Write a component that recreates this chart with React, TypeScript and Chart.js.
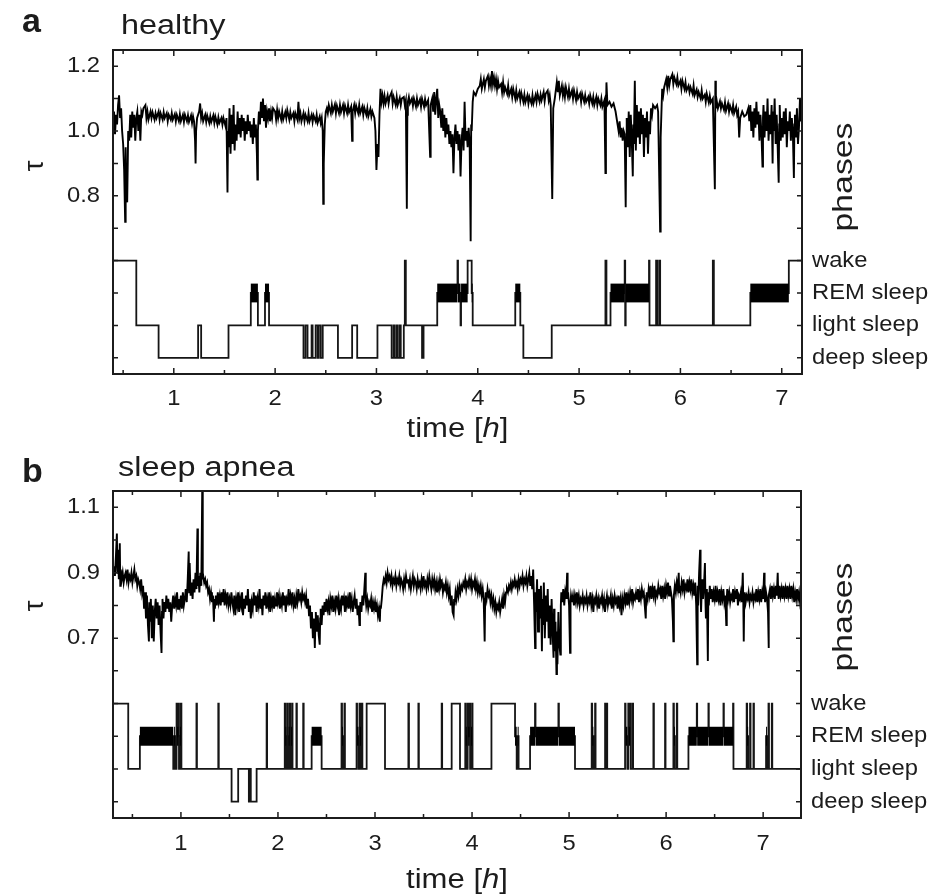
import React, { useEffect, useRef } from "react";
import { Chart, registerables } from "chart.js";
Chart.register(...registerables);

const FONT = "'Liberation Sans', Arial, Helvetica, sans-serif";

type Stage = "W" | "R" | "L" | "D";

// ---------- axis ticks ----------
const HOUR_TICKS = [1, 2, 3, 4, 5, 6, 7];
const HALF_HOUR_TICKS = [0.5, 1.5, 2.5, 3.5, 4.5, 5.5, 6.5];
const TAU_TICKS_A = [0.3, 0.4, 0.5, 0.6, 0.7, 0.8, 0.9, 1.0, 1.1, 1.2];
const TAU_LABELS_A = [0.8, 1.0, 1.2];
const TAU_TICKS_B = [0.2, 0.3, 0.4, 0.5, 0.6, 0.7, 0.8, 0.9, 1.0, 1.1];
const TAU_LABELS_B = [0.7, 0.9, 1.1];
const PHASE_NAMES: Record<Stage, string> = { W: "wake", R: "REM sleep", L: "light sleep", D: "deep sleep" };
const PHASE_ORDER: Stage[] = ["W", "R", "L", "D"];
const PHASE_LEVELS_A: Record<Stage, number> = { W: 0.6, R: 0.5, L: 0.4, D: 0.3 };
const PHASE_LEVELS_B: Record<Stage, number> = { W: 0.5, R: 0.4, L: 0.3, D: 0.2 };

// ---------- panel a: healthy ----------
const TAU_A: [number, number][] = [
  [0.40,1.03],[0.41,1.06],[0.42,0.99],[0.43,1.05],[0.44,1.02],[0.45,1.08],[0.46,1.11],[0.47,1.04],[0.48,1.07],[0.49,1.00],
  [0.50,0.96],[0.51,0.88],[0.52,0.72],[0.525,0.95],[0.53,0.80],[0.54,0.78],[0.55,1.00],[0.56,0.97],[0.57,1.05],[0.58,0.98],
  [0.59,1.06],[0.60,1.01],[0.61,1.05],[0.62,0.97],[0.63,1.04],[0.64,1.06],[0.65,1.00],[0.66,1.05],[0.67,0.97],[0.68,1.06],
  [0.69,1.05],[0.70,1.07],[0.72,1.08],[0.73,1.04],[0.74,1.06],[0.75,1.035],[0.77,1.06],[0.78,1.04],[0.79,1.058],[0.81,1.035],
  [0.82,1.055],[0.83,1.04],[0.85,1.06],[0.86,1.035],[0.87,1.055],[0.89,1.035],[0.90,1.058],[0.91,1.04],[0.93,1.055],[0.94,1.03],
  [0.95,1.05],[0.97,1.035],[0.98,1.055],[0.99,1.035],[1.01,1.052],[1.02,1.03],[1.03,1.05],[1.05,1.03],[1.06,1.052],[1.07,1.03],
  [1.09,1.05],[1.10,1.028],[1.11,1.05],[1.13,1.03],[1.14,1.048],[1.15,1.028],[1.17,1.048],[1.18,1.025],[1.19,1.045],[1.20,1.03],
  [1.21,0.97],[1.215,0.90],[1.22,1.00],[1.23,1.04],[1.25,1.06],[1.26,1.085],[1.27,1.04],[1.28,1.055],[1.29,1.03],[1.31,1.05],
  [1.32,1.028],[1.33,1.048],[1.35,1.025],[1.36,1.045],[1.37,1.028],[1.39,1.048],[1.40,1.025],[1.41,1.045],[1.43,1.02],[1.44,1.042],
  [1.45,1.025],[1.47,1.04],[1.48,1.02],[1.49,1.04],[1.51,1.015],[1.52,1.04],[1.53,0.81],[1.535,1.00],
  [1.54,0.95],[1.55,1.07],[1.56,0.93],[1.57,1.05],[1.58,0.96],[1.59,1.08],[1.60,0.94],[1.61,1.02],[1.62,0.97],[1.63,1.06],
  [1.64,0.99],[1.65,1.04],[1.66,0.98],[1.67,1.05],[1.68,1.00],[1.69,1.04],[1.70,0.97],[1.71,1.03],[1.72,0.99],[1.73,1.05],
  [1.74,1.00],[1.75,1.03],[1.76,0.98],[1.77,1.02],[1.78,0.96],[1.79,1.04],[1.80,0.98],[1.81,1.02],[1.82,0.93],[1.825,0.85],
  [1.83,1.00],[1.84,1.06],[1.85,1.02],[1.86,1.09],[1.87,1.04],[1.88,1.10],[1.89,1.03],[1.90,1.08],[1.91,1.01],[1.92,1.06],
  [1.93,1.04],[1.94,1.07],[1.95,1.03],[1.96,1.06],[1.97,1.04],[1.98,1.07],
  [2.00,1.06],[2.01,1.035],[2.02,1.065],[2.03,1.04],[2.04,1.06],[2.06,1.035],[2.07,1.06],[2.08,1.035],[2.10,1.058],[2.11,1.04],
  [2.12,1.065],[2.14,1.035],[2.15,1.058],[2.16,1.04],[2.18,1.055],[2.19,1.03],[2.20,1.055],[2.22,1.035],[2.23,1.09],[2.24,1.04],
  [2.25,1.055],[2.26,1.03],[2.28,1.055],[2.29,1.03],[2.30,1.05],[2.32,1.03],[2.33,1.055],[2.34,1.03],[2.36,1.05],[2.37,1.028],
  [2.38,1.048],[2.40,1.03],[2.41,1.05],[2.42,1.025],[2.44,1.045],[2.45,1.025],[2.46,1.04],
  [2.47,1.00],[2.475,0.775],[2.48,0.90],[2.49,1.02],[2.50,1.06],
  [2.51,1.07],[2.52,1.055],[2.53,1.08],[2.55,1.055],[2.56,1.08],[2.57,1.06],[2.59,1.082],[2.60,1.055],[2.61,1.078],[2.63,1.055],
  [2.64,1.08],[2.65,1.058],[2.67,1.08],[2.68,1.055],[2.69,1.078],[2.71,1.055],[2.72,1.08],[2.73,1.058],[2.75,1.075],[2.76,0.97],
  [2.765,1.06],[2.78,1.08],[2.79,1.055],[2.80,1.078],[2.82,1.055],[2.83,1.08],[2.84,1.055],[2.86,1.075],[2.87,1.05],[2.88,1.072],
  [2.90,1.05],[2.91,1.07],[2.92,1.045],[2.94,1.068],[2.95,1.045],[2.96,1.06],[2.98,1.04],
  [2.99,1.00],[3.00,0.88],[3.01,0.96],[3.02,0.92],[3.03,1.05],[3.04,1.13],
  [3.05,1.09],[3.06,1.11],[3.07,1.085],[3.08,1.108],[3.09,1.085],[3.11,1.11],[3.12,1.085],[3.13,1.105],[3.15,1.12],[3.16,1.085],
  [3.17,1.105],[3.19,1.08],[3.20,1.105],[3.21,1.08],[3.23,1.102],[3.24,1.08],[3.25,1.10],[3.27,1.105],[3.28,1.08],[3.29,1.095],
  [3.30,0.76],[3.305,1.05],[3.31,1.09],[3.32,1.105],[3.33,1.085],[3.35,1.10],[3.36,1.078],[3.37,1.10],[3.39,1.075],[3.40,1.10],
  [3.41,1.08],[3.43,1.098],[3.44,1.075],[3.45,1.10],[3.47,1.075],[3.48,1.098],[3.49,1.08],[3.51,1.095],
  [3.53,0.92],[3.535,1.08],[3.55,1.10],[3.56,1.06],[3.57,1.12],[3.58,1.05],
  [3.59,1.10],[3.60,1.13],[3.61,1.04],[3.62,1.08],[3.63,1.06],[3.64,1.01],[3.65,1.07],[3.66,1.00],[3.67,1.05],[3.68,0.98],
  [3.69,1.04],[3.70,0.99],[3.71,1.02],[3.72,0.96],[3.73,1.00],[3.74,0.95],[3.75,0.99],[3.76,0.87],[3.77,0.98],[3.78,1.02],
  [3.79,0.96],[3.80,1.00],[3.81,0.94],[3.82,0.99],[3.83,0.86],[3.84,0.97],[3.85,1.01],[3.86,0.94],[3.87,1.09],[3.88,0.97],
  [3.89,1.00],[3.90,0.95],[3.91,1.01],[3.92,0.96],[3.93,0.66],[3.935,1.02],[3.94,1.00],[3.95,1.09],[3.96,1.12],[3.98,1.11],
  [4.00,1.13],[4.02,1.14],[4.03,1.16],[4.04,1.13],
  [4.06,1.16],[4.07,1.135],[4.08,1.155],[4.10,1.17],[4.11,1.14],[4.12,1.16],[4.13,1.14],[4.14,1.185],[4.15,1.145],[4.16,1.165],
  [4.17,1.14],[4.18,1.16],[4.19,1.13],[4.20,1.155],[4.21,1.135],[4.23,1.145],[4.24,1.12],[4.25,1.15],[4.26,1.12],[4.27,1.135],
  [4.29,1.115],[4.30,1.14],[4.31,1.11],[4.33,1.13],[4.34,1.105],[4.35,1.13],[4.37,1.10],[4.38,1.125],[4.39,1.10],[4.41,1.12],
  [4.42,1.095],[4.43,1.118],[4.45,1.09],[4.46,1.112],[4.47,1.088],[4.49,1.11],[4.50,1.085],[4.51,1.105],[4.53,1.085],[4.54,1.11],
  [4.55,1.085],[4.57,1.11],[4.58,1.09],[4.59,1.115],[4.61,1.09],[4.62,1.112],[4.63,1.095],[4.65,1.12],[4.66,1.092],[4.67,1.115],
  [4.69,1.125],[4.70,1.095],[4.71,1.11],[4.72,1.08],[4.735,0.79],
  [4.745,1.07],[4.76,1.10],[4.78,1.15],[4.79,1.12],[4.80,1.155],[4.81,1.11],
  [4.83,1.14],[4.84,1.11],[4.85,1.13],[4.86,1.105],[4.87,1.135],[4.89,1.105],[4.90,1.13],[4.91,1.105],[4.93,1.125],[4.94,1.10],
  [4.95,1.125],[4.97,1.095],[4.98,1.12],[4.99,1.10],[5.01,1.115],[5.02,1.09],[5.03,1.115],[5.05,1.09],[5.06,1.11],[5.07,1.09],
  [5.09,1.105],[5.10,1.085],[5.11,1.11],[5.13,1.085],[5.14,1.105],[5.15,1.08],[5.17,1.105],[5.18,1.08],[5.19,1.10],[5.21,1.08],
  [5.22,1.10],[5.23,1.075],[5.25,1.095],[5.26,0.87],[5.265,1.05],
  [5.27,1.15],[5.28,1.08],[5.30,1.09],[5.32,1.075],[5.34,1.085],[5.36,1.06],[5.38,1.02],[5.39,1.00],[5.40,1.03],[5.41,0.98],
  [5.42,1.01],[5.43,0.97],[5.44,1.00],[5.45,0.99],[5.46,0.765],[5.465,0.98],[5.47,1.04],[5.48,0.95],[5.49,1.06],[5.50,0.92],
  [5.51,1.05],[5.52,0.97],[5.53,0.86],[5.535,1.02],[5.54,0.96],[5.55,1.155],[5.555,1.03],[5.56,0.94],[5.57,1.08],[5.58,0.98],
  [5.59,1.06],[5.60,0.96],[5.61,1.07],[5.62,0.99],[5.63,1.05],[5.64,0.92],[5.65,1.04],[5.66,0.98],[5.67,1.06],[5.68,0.93],
  [5.69,1.03],[5.70,0.99],[5.71,1.07],[5.72,1.05],[5.73,1.08],[5.75,1.07],[5.77,1.08],[5.78,1.06],[5.80,0.69],[5.805,0.98],
  [5.82,1.13],[5.83,1.11],[5.84,1.135],[5.86,1.16],[5.87,1.135],[5.88,1.17],[5.89,1.14],[5.90,1.16],[5.92,1.175],[5.93,1.145],
  [5.94,1.165],[5.96,1.145],[5.97,1.165],[5.98,1.14],[6.00,1.155],[6.01,1.13],[6.02,1.155],[6.04,1.13],[6.05,1.15],[6.06,1.125],
  [6.08,1.14],[6.09,1.12],[6.10,1.135],[6.12,1.115],[6.13,1.14],[6.14,1.11],[6.16,1.128],[6.17,1.105],[6.18,1.12],[6.20,1.10],
  [6.21,1.125],[6.22,1.10],[6.24,1.112],[6.25,1.09],[6.26,1.115],[6.28,1.088],[6.29,1.108],[6.30,1.088],[6.32,1.10],
  [6.34,0.82],[6.345,1.155],
  [6.35,1.07],[6.36,1.09],[6.37,1.07],[6.39,1.092],[6.40,1.07],[6.41,1.085],[6.43,1.065],[6.44,1.088],[6.45,1.062],[6.47,1.085],
  [6.48,1.06],[6.49,1.078],[6.51,1.058],[6.52,1.08],[6.53,1.055],[6.55,1.075],[6.56,1.05],[6.57,1.06],
  [6.58,0.98],[6.59,1.04],[6.61,1.06],[6.63,1.045],[6.65,1.05],[6.67,1.07],[6.68,1.03],[6.69,1.08],[6.70,1.00],[6.71,1.06],
  [6.72,0.98],[6.73,1.07],[6.74,1.01],[6.75,1.09],[6.76,1.02],[6.77,1.06],[6.78,0.97],[6.79,1.05],[6.80,0.99],[6.81,0.89],
  [6.815,1.04],[6.82,1.08],[6.83,0.98],[6.84,1.06],[6.85,1.00],[6.86,1.10],[6.87,0.97],[6.88,1.05],[6.89,0.99],[6.90,1.08],
  [6.91,0.90],[6.915,1.06],[6.92,1.00],[6.93,1.10],[6.94,0.96],[6.95,1.05],[6.96,0.95],[6.97,0.84],[6.975,1.02],[6.98,1.08],
  [6.99,0.97],[7.00,1.04],[7.01,0.98],[7.02,1.06],[7.03,0.99],[7.04,1.07],[7.05,0.95],[7.06,1.03],[7.07,1.00],[7.08,1.06],
  [7.09,0.97],[7.10,1.04],[7.11,0.99],[7.12,0.855],[7.125,1.02],[7.13,1.05],[7.14,0.98],[7.15,1.07],[7.16,0.96],[7.17,1.01],
  [7.18,1.10],[7.19,1.03],[7.20,1.06],[7.21,1.04],
];

const HYPNO_A: [number, Stage][] = [
  [0.40,"W"],[0.63,"L"],[0.85,"D"],[1.24,"L"],[1.27,"D"],[1.54,"L"],[1.76,"R"],[1.83,"L"],[1.90,"R"],[1.94,"L"],
  [2.28,"D"],[2.30,"L"],[2.32,"D"],[2.36,"L"],[2.37,"D"],[2.40,"L"],[2.42,"D"],[2.43,"L"],[2.45,"D"],[2.47,"L"],
  [2.62,"D"],[2.76,"L"],[2.81,"D"],[3.01,"L"],[3.15,"D"],[3.17,"L"],[3.18,"D"],[3.20,"L"],[3.21,"D"],[3.23,"L"],
  [3.24,"D"],[3.27,"L"],[3.28,"W"],[3.29,"L"],[3.45,"D"],[3.465,"L"],[3.60,"R"],[3.80,"W"],[3.805,"R"],[3.83,"L"],
  [3.835,"R"],[3.90,"W"],[3.94,"R"],[3.95,"L"],[4.37,"R"],[4.42,"L"],[4.45,"D"],[4.73,"L"],[5.26,"W"],[5.27,"L"],
  [5.31,"R"],[5.45,"W"],[5.455,"L"],[5.46,"R"],[5.69,"W"],[5.695,"L"],[5.76,"W"],[5.77,"L"],[5.79,"W"],[5.80,"L"],
  [6.32,"W"],[6.33,"L"],[6.69,"R"],[7.07,"W"],[7.21,"W"],
];

// ---------- panel b: sleep apnea ----------
const TAU_B: [number, number][] = [
  [0.30,0.90],[0.31,0.92],[0.32,0.89],[0.33,0.95],[0.34,1.02],[0.345,0.90],[0.35,0.97],[0.36,0.88],[0.37,0.99],[0.375,0.86],
  [0.38,0.91],[0.39,0.88],[0.40,0.90],[0.41,0.87],[0.42,0.89],[0.43,0.90],[0.44,0.88],[0.45,0.91],[0.46,0.87],[0.47,0.89],
  [0.48,0.88],[0.49,0.90],[0.50,0.87],[0.51,0.89],[0.52,0.91],[0.53,0.88],[0.54,0.89],[0.55,0.86],[0.56,0.88],[0.57,0.87],
  [0.58,0.85],[0.59,0.88],[0.60,0.84],[0.61,0.86],[0.62,0.79],[0.63,0.84],[0.64,0.76],[0.65,0.83],[0.66,0.74],[0.67,0.69],
  [0.675,0.81],[0.68,0.75],[0.69,0.82],[0.70,0.70],[0.71,0.80],[0.72,0.69],[0.73,0.78],[0.74,0.82],[0.75,0.76],[0.76,0.81],
  [0.77,0.74],[0.78,0.80],[0.79,0.72],[0.80,0.655],[0.805,0.78],[0.81,0.82],[0.82,0.76],[0.83,0.81],[0.84,0.78],[0.85,0.83],
  [0.86,0.79],[0.87,0.82],[0.88,0.78],[0.89,0.81],[0.90,0.75],[0.91,0.80],[0.92,0.83],[0.93,0.79],[0.94,0.82],[0.95,0.80],
  [0.96,0.84],[0.97,0.79],[0.98,0.82],[0.99,0.80],[1.00,0.83],[1.01,0.79],[1.02,0.84],[1.03,0.80],[1.04,0.82],[1.05,0.85],
  [1.06,0.81],[1.07,0.88],[1.08,0.965],[1.085,0.84],[1.09,0.93],[1.10,0.83],[1.11,0.87],[1.12,0.82],[1.13,0.88],[1.14,0.84],
  [1.15,0.90],[1.16,0.85],[1.17,1.035],[1.175,0.86],[1.18,0.89],[1.19,0.84],[1.20,0.90],[1.21,0.86],[1.22,1.17],[1.225,0.88],
  [1.23,0.89],[1.24,0.87],[1.25,0.88],[1.26,0.86],[1.27,0.87],[1.28,0.84],[1.29,0.85],[1.30,0.82],[1.31,0.84],[1.32,0.81],
  [1.33,0.83],[1.34,0.75],[1.345,0.82],[1.35,0.79],[1.36,0.83],[1.37,0.80],[1.38,0.84],[1.39,0.81],[1.40,0.83],[1.41,0.80],
  [1.42,0.84],[1.43,0.81],[1.44,0.85],[1.45,0.80],[1.46,0.83],[1.47,0.81],[1.48,0.84],[1.49,0.80],[1.50,0.82],[1.51,0.80],
  [1.52,0.84],[1.53,0.81],[1.54,0.79],[1.55,0.83],[1.56,0.77],[1.57,0.82],[1.58,0.80],
  [1.59,0.84],[1.60,0.78],[1.61,0.82],[1.62,0.80],[1.63,0.84],[1.64,0.77],[1.65,0.82],[1.66,0.79],[1.67,0.83],[1.68,0.80],
  [1.69,0.85],[1.70,0.78],[1.71,0.82],[1.72,0.76],[1.73,0.81],[1.74,0.79],[1.75,0.84],[1.76,0.80],[1.77,0.83],[1.78,0.78],
  [1.79,0.82],[1.80,0.80],[1.81,0.85],[1.82,0.79],[1.83,0.82],[1.84,0.77],[1.85,0.83],[1.86,0.80],[1.87,0.84],[1.88,0.79],
  [1.89,0.82],[1.90,0.80],[1.91,0.84],[1.92,0.78],[1.93,0.82],[1.94,0.80],[1.95,0.83],[1.96,0.79],[1.97,0.82],[1.98,0.80],
  [1.99,0.84],[2.00,0.81],[2.01,0.83],[2.02,0.79],[2.03,0.82],[2.04,0.80],[2.05,0.84],[2.06,0.80],[2.07,0.83],[2.08,0.78],
  [2.09,0.82],[2.10,0.81],[2.11,0.85],[2.12,0.80],[2.13,0.83],[2.14,0.81],[2.15,0.84],[2.16,0.80],[2.17,0.82],[2.18,0.79],
  [2.19,0.83],[2.20,0.81],[2.21,0.85],[2.22,0.82],[2.23,0.83],[2.24,0.81],[2.25,0.84],[2.26,0.82],[2.27,0.83],[2.28,0.81],
  [2.29,0.83],[2.30,0.79],[2.31,0.82],[2.32,0.77],[2.33,0.80],[2.34,0.73],[2.35,0.78],[2.36,0.70],[2.37,0.76],[2.38,0.67],
  [2.385,0.74],[2.39,0.78],[2.40,0.72],[2.41,0.77],[2.42,0.71],[2.43,0.68],[2.435,0.76],[2.44,0.79],[2.45,0.74],[2.46,0.80],
  [2.47,0.77],[2.48,0.81],[2.49,0.78],[2.50,0.82],[2.51,0.79],[2.52,0.81],[2.53,0.77],[2.54,0.82],[2.55,0.80],[2.56,0.83],
  [2.57,0.78],[2.58,0.81],[2.59,0.79],[2.60,0.83],[2.61,0.80],[2.62,0.82],[2.63,0.77],[2.64,0.81],[2.65,0.79],[2.66,0.83],
  [2.67,0.80],[2.68,0.82],[2.69,0.78],[2.70,0.83],[2.71,0.80],[2.72,0.82],[2.73,0.79],[2.74,0.84],[2.75,0.80],[2.76,0.82],
  [2.77,0.78],[2.78,0.81],[2.79,0.83],[2.80,0.79],[2.81,0.82],[2.82,0.77],[2.83,0.80],[2.84,0.74],[2.845,0.79],[2.85,0.81],
  [2.86,0.78],[2.87,0.83],[2.88,0.80],[2.89,0.85],[2.90,0.90],[2.905,0.82],[2.91,0.80],[2.92,0.82],[2.93,0.79],[2.94,0.81],
  [2.95,0.80],[2.96,0.82],[2.97,0.78],[2.98,0.81],[2.99,0.79],[3.00,0.81],[3.01,0.78],[3.02,0.80],[3.03,0.77],[3.04,0.79],
  [3.05,0.75],[3.055,0.80],[3.06,0.79],[3.07,0.82],[3.08,0.86],[3.09,0.88],[3.10,0.87],[3.11,0.89],[3.12,0.87],[3.13,0.90],
  [3.14,0.88],[3.15,0.89],[3.16,0.87],[3.17,0.89],[3.18,0.86],[3.19,0.88],[3.20,0.87],[3.21,0.89],[3.22,0.86],[3.23,0.88],
  [3.24,0.87],[3.25,0.89],[3.26,0.86],[3.27,0.88],[3.28,0.87],[3.29,0.85],[3.30,0.88],[3.31,0.86],[3.32,0.89],[3.33,0.87],
  [3.34,0.88],[3.35,0.86],[3.36,0.88],[3.37,0.85],[3.38,0.87],[3.39,0.89],[3.40,0.86],[3.41,0.88],[3.42,0.87],[3.43,0.85],
  [3.44,0.88],[3.45,0.86],[3.46,0.87],[3.47,0.85],[3.48,0.88],[3.49,0.86],[3.50,0.89],[3.51,0.86],[3.52,0.87],[3.53,0.85],
  [3.54,0.88],[3.55,0.86],[3.56,0.89],[3.57,0.87],[3.58,0.85],[3.59,0.88],[3.60,0.86],[3.61,0.88],[3.62,0.85],[3.63,0.87],
  [3.64,0.84],[3.65,0.87],[3.66,0.85],[3.67,0.88],[3.68,0.86],[3.69,0.87],[3.70,0.84],[3.71,0.86],[3.72,0.85],[3.73,0.87],
  [3.74,0.84],[3.75,0.86],[3.76,0.83],[3.77,0.85],[3.78,0.80],[3.79,0.83],[3.80,0.78],[3.81,0.77],[3.815,0.82],[3.82,0.80],
  [3.83,0.84],[3.84,0.82],[3.85,0.85],[3.86,0.83],[3.87,0.86],[3.88,0.84],[3.89,0.86],[3.90,0.85],[3.91,0.87],[3.92,0.86],
  [3.93,0.88],[3.94,0.85],[3.95,0.87],[3.96,0.86],[3.97,0.88],[3.98,0.86],[3.99,0.88],[4.00,0.85],[4.01,0.87],[4.02,0.86],
  [4.03,0.88],[4.04,0.85],[4.05,0.87],[4.06,0.84],[4.07,0.86],[4.08,0.84],[4.09,0.86],[4.10,0.83],[4.11,0.85],[4.12,0.82],
  [4.13,0.69],[4.135,0.82],[4.14,0.84],[4.15,0.82],[4.16,0.85],[4.17,0.83],[4.18,0.84],[4.19,0.81],[4.20,0.83],[4.21,0.80],
  [4.22,0.82],[4.23,0.79],[4.24,0.81],[4.25,0.78],[4.26,0.80],[4.27,0.79],[4.28,0.81],[4.29,0.78],[4.30,0.80],[4.31,0.82],
  [4.32,0.79],[4.33,0.83],[4.34,0.81],[4.35,0.84],[4.36,0.85],[4.37,0.84],[4.38,0.86],[4.39,0.85],[4.40,0.87],[4.41,0.85],
  [4.42,0.87],[4.43,0.86],[4.44,0.88],[4.45,0.86],[4.46,0.87],[4.47,0.85],[4.48,0.88],[4.49,0.86],[4.50,0.88],[4.51,0.87],
  [4.52,0.89],[4.53,0.86],[4.54,0.88],[4.55,0.87],[4.56,0.89],[4.57,0.86],[4.58,0.88],[4.59,0.90],[4.60,0.86],[4.61,0.89],
  [4.62,0.85],[4.63,0.91],[4.64,0.80],[4.65,0.67],[4.655,0.84],[4.66,0.78],[4.67,0.88],[4.68,0.72],[4.69,0.85],[4.70,0.76],
  [4.71,0.86],[4.72,0.66],[4.725,0.82],[4.73,0.74],[4.74,0.87],[4.75,0.70],[4.76,0.83],[4.77,0.75],[4.78,0.85],[4.79,0.70],
  [4.80,0.80],[4.81,0.68],[4.82,0.82],[4.83,0.72],[4.84,0.64],[4.845,0.79],[4.85,0.66],[4.86,0.75],[4.87,0.59],[4.875,0.72],
  [4.88,0.62],[4.89,0.78],[4.90,0.68],[4.91,0.65],[4.915,0.80],[4.92,0.84],[4.93,0.81],[4.94,0.85],[4.95,0.80],[4.96,0.84],
  [4.97,0.82],[4.98,0.90],[4.985,0.82],[4.99,0.84],[5.00,0.80],[5.01,0.655],[5.015,0.81],[5.02,0.83],[5.03,0.81],[5.04,0.83],
  [5.05,0.80],[5.06,0.83],[5.07,0.81],[5.08,0.84],[5.09,0.81],[5.10,0.83],[5.11,0.80],[5.12,0.82],[5.13,0.81],[5.14,0.83],
  [5.15,0.80],[5.16,0.82],[5.17,0.81],[5.18,0.83],[5.19,0.80],[5.20,0.82],[5.21,0.81],[5.22,0.84],[5.23,0.80],[5.24,0.82],
  [5.25,0.78],[5.26,0.82],[5.27,0.81],[5.28,0.83],[5.29,0.80],[5.30,0.82],[5.31,0.79],[5.32,0.82],[5.33,0.81],[5.34,0.83],
  [5.35,0.80],[5.36,0.82],[5.37,0.78],[5.38,0.81],[5.39,0.83],[5.40,0.80],[5.41,0.82],[5.42,0.81],[5.43,0.83],[5.44,0.79],
  [5.45,0.82],[5.46,0.80],[5.47,0.83],[5.48,0.81],[5.49,0.82],[5.50,0.79],[5.51,0.83],[5.52,0.80],[5.53,0.82],[5.54,0.77],
  [5.55,0.82],[5.56,0.80],[5.57,0.83],[5.58,0.81],[5.59,0.84],[5.60,0.80],[5.61,0.83],[5.62,0.81],[5.63,0.84],[5.64,0.82],
  [5.65,0.85],[5.66,0.81],[5.67,0.83],[5.68,0.82],[5.69,0.84],[5.70,0.82],[5.71,0.85],[5.72,0.81],[5.73,0.84],[5.74,0.82],
  [5.75,0.85],[5.76,0.83],[5.77,0.84],[5.78,0.80],[5.79,0.76],[5.795,0.83],[5.80,0.84],[5.81,0.82],[5.82,0.85],[5.83,0.83],
  [5.84,0.86],[5.85,0.82],[5.86,0.85],[5.87,0.83],[5.88,0.86],[5.89,0.82],[5.90,0.84],[5.91,0.83],[5.92,0.86],[5.93,0.84],
  [5.94,0.85],[5.95,0.82],[5.96,0.86],[5.97,0.83],[5.98,0.85],[5.99,0.82],[6.00,0.86],[6.01,0.84],[6.02,0.87],[6.03,0.83],
  [6.04,0.86],[6.05,0.84],[6.06,0.82],[6.07,0.75],[6.075,0.69],[6.08,0.83],[6.09,0.86],[6.10,0.84],[6.11,0.87],[6.12,0.85],
  [6.13,0.90],[6.135,0.84],[6.14,0.86],[6.15,0.84],[6.16,0.87],[6.17,0.85],[6.18,0.88],[6.19,0.84],[6.20,0.86],[6.21,0.85],
  [6.22,0.88],[6.23,0.84],[6.24,0.87],[6.25,0.85],[6.26,0.88],[6.27,0.84],[6.28,0.86],[6.29,0.83],[6.30,0.87],[6.31,0.80],
  [6.32,0.62],[6.325,0.86],[6.33,0.80],[6.34,0.90],[6.35,0.97],[6.355,0.84],[6.36,0.78],[6.37,0.88],[6.38,0.82],[6.39,0.86],
  [6.40,0.93],[6.405,0.82],[6.41,0.76],[6.42,0.85],[6.43,0.63],[6.435,0.84],[6.44,0.80],[6.45,0.86],[6.46,0.82],[6.47,0.85],
  [6.48,0.81],[6.49,0.84],[6.50,0.82],[6.51,0.86],[6.52,0.81],[6.53,0.84],[6.54,0.82],[6.55,0.85],[6.56,0.80],[6.57,0.84],
  [6.58,0.82],[6.59,0.85],[6.60,0.81],[6.61,0.83],[6.62,0.74],[6.625,0.82],[6.63,0.85],[6.64,0.82],[6.65,0.84],[6.66,0.81],
  [6.67,0.83],[6.68,0.82],[6.69,0.85],[6.70,0.81],[6.71,0.84],[6.72,0.82],[6.73,0.85],[6.74,0.80],[6.75,0.83],[6.76,0.82],
  [6.77,0.84],[6.78,0.81],[6.79,0.90],[6.795,0.82],[6.80,0.69],[6.805,0.82],[6.81,0.84],[6.82,0.81],[6.83,0.83],[6.84,0.82],
  [6.85,0.84],[6.86,0.81],[6.87,0.83],[6.88,0.82],[6.89,0.84],[6.90,0.81],[6.91,0.83],[6.92,0.82],[6.93,0.85],[6.94,0.81],
  [6.95,0.84],[6.96,0.82],[6.97,0.85],[6.98,0.81],[6.99,0.84],[7.00,0.82],[7.01,0.90],[7.015,0.83],[7.02,0.81],[7.03,0.84],
  [7.04,0.82],[7.05,0.78],[7.055,0.67],[7.06,0.83],[7.07,0.85],[7.08,0.82],[7.09,0.86],[7.10,0.83],[7.11,0.85],[7.12,0.82],
  [7.13,0.86],[7.14,0.83],[7.15,0.90],[7.155,0.84],[7.16,0.82],[7.17,0.86],[7.18,0.83],[7.19,0.85],[7.20,0.82],[7.21,0.86],
  [7.22,0.83],[7.23,0.85],[7.24,0.82],[7.25,0.86],[7.26,0.83],[7.27,0.85],[7.28,0.82],[7.29,0.86],[7.30,0.83],[7.31,0.85],
  [7.32,0.81],[7.33,0.84],[7.34,0.82],[7.35,0.85],[7.36,0.82],[7.37,0.84],[7.38,0.81],[7.39,0.83],
];

const HYPNO_B: [number, Stage][] = [
  [0.30,"W"],[0.457,"L"],[0.577,"R"],[0.921,"L"],[0.93,"R"],[0.94,"L"],[0.955,"W"],[0.96,"R"],[0.975,"W"],[0.98,"L"],
  [0.99,"R"],[1.0,"W"],[1.005,"L"],[1.16,"W"],[1.165,"L"],[1.385,"W"],[1.39,"L"],[1.522,"D"],[1.59,"L"],[1.70,"D"],
  [1.71,"L"],[1.72,"D"],[1.78,"L"],[1.883,"W"],[1.888,"L"],[2.07,"W"],[2.075,"R"],[2.085,"L"],[2.095,"W"],[2.10,"L"],
  [2.11,"R"],[2.12,"W"],[2.125,"L"],[2.135,"R"],[2.145,"W"],[2.15,"L"],[2.19,"W"],[2.195,"L"],[2.26,"W"],[2.265,"L"],
  [2.347,"R"],[2.45,"L"],[2.655,"W"],[2.66,"R"],[2.67,"L"],[2.685,"W"],[2.69,"L"],[2.81,"W"],[2.815,"R"],[2.83,"L"],
  [2.84,"W"],[2.845,"R"],[2.855,"L"],[2.863,"W"],[2.87,"L"],[2.914,"W"],[3.103,"L"],[3.344,"W"],[3.35,"L"],[3.447,"W"],
  [3.452,"L"],[3.687,"W"],[3.692,"L"],[3.79,"W"],[3.876,"L"],[3.93,"W"],[3.935,"R"],[3.945,"L"],[3.955,"W"],[3.96,"R"],
  [3.975,"W"],[3.98,"L"],[3.99,"R"],[4.0,"W"],[4.005,"L"],[4.20,"W"],[4.443,"R"],[4.46,"L"],[4.47,"R"],[4.48,"L"],
  [4.598,"R"],[4.649,"W"],[4.654,"R"],[4.89,"W"],[4.895,"R"],[5.061,"L"],[5.233,"W"],[5.238,"R"],[5.25,"L"],[5.268,"W"],
  [5.273,"L"],[5.371,"W"],[5.376,"L"],[5.388,"W"],[5.393,"L"],[5.577,"W"],[5.582,"R"],[5.60,"L"],[5.61,"W"],[5.615,"R"],
  [5.63,"W"],[5.635,"L"],[5.655,"W"],[5.66,"L"],[5.869,"W"],[5.874,"L"],[5.989,"W"],[5.994,"L"],[6.075,"W"],[6.08,"R"],
  [6.09,"L"],[6.11,"W"],[6.115,"L"],[6.23,"R"],[6.316,"W"],[6.32,"R"],[6.436,"W"],[6.44,"R"],[6.591,"W"],[6.595,"R"],
  [6.69,"W"],[6.694,"L"],[6.83,"W"],[6.835,"R"],[6.845,"L"],[6.865,"W"],[6.87,"L"],[6.90,"W"],[6.905,"L"],[7.03,"R"],
  [7.04,"L"],[7.055,"W"],[7.06,"L"],[7.089,"W"],[7.094,"L"],[7.39,"L"],
];

// ---------- panel configs (layout only) ----------
interface PanelCfg {
  letter: string; title: string; tau: [number, number][]; hypno: [number, Stage][];
  levels: Record<Stage, number>; tauTicks: number[]; tauLabels: number[];
  xMin: number; xMax: number; yMin: number; yMax: number; remHalf: number;
  top: number; height: number;
  pad: { top: number; left: number; right: number; bottom: number };
  letterBase: number; titleX: number; titleBase: number; xLabelOffset: number; xTitleBase: number;
}

const PANEL_A: PanelCfg = {
  letter: "a", title: "healthy", tau: TAU_A, hypno: HYPNO_A, levels: PHASE_LEVELS_A,
  tauTicks: TAU_TICKS_A, tauLabels: TAU_LABELS_A,
  xMin: 0.4, xMax: 7.2, yMin: 0.25, yMax: 1.25, remHalf: 0.029,
  top: 0, height: 450, pad: { top: 50, left: 113, right: 149, bottom: 76 },
  letterBase: 32, titleX: 121, titleBase: 34, xLabelOffset: 25, xTitleBase: 437,
};
const PANEL_B: PanelCfg = {
  letter: "b", title: "sleep apnea", tau: TAU_B, hypno: HYPNO_B, levels: PHASE_LEVELS_B,
  tauTicks: TAU_TICKS_B, tauLabels: TAU_LABELS_B,
  xMin: 0.3, xMax: 7.39, yMin: 0.15, yMax: 1.15, remHalf: 0.029,
  top: 440, height: 455, pad: { top: 51, left: 113, right: 150, bottom: 77 },
  letterBase: 42, titleX: 118, titleBase: 36, xLabelOffset: 25.5, xTitleBase: 448,
};

const INK = "#1c1c1c";

function drawText(ctx: CanvasRenderingContext2D, text: string, x: number, y: number, font: string,
  o: { sx?: number; rot?: number; align?: CanvasTextAlign; base?: CanvasTextBaseline } = {}) {
  ctx.save();
  ctx.translate(x, y);
  if (o.rot) ctx.rotate(o.rot);
  ctx.scale(o.sx ?? 1, 1);
  ctx.font = font;
  ctx.fillStyle = INK;
  ctx.textAlign = o.align ?? "left";
  ctx.textBaseline = o.base ?? "alphabetic";
  ctx.fillText(text, 0, 0);
  ctx.restore();
}

function drawRich(ctx: CanvasRenderingContext2D, parts: { t: string; f: string }[], cx: number, base: number, sx: number) {
  let total = 0;
  const widths = parts.map((p) => { ctx.font = p.f; const w = ctx.measureText(p.t).width; total += w; return w; });
  let x = cx - (total * sx) / 2;
  parts.forEach((p, i) => { drawText(ctx, p.t, x, base, p.f, { sx }); x += widths[i] * sx; });
}

// REM periods of a hypnogram: [start, end] intervals
function remIntervals(h: [number, Stage][]) {
  const out: [number, number][] = [];
  for (let i = 0; i < h.length - 1; i++) if (h[i][1] === "R") out.push([h[i][0], h[i + 1][0]]);
  return out;
}

function makeDecor(cfg: PanelCfg) {
  return {
    id: "decor" + cfg.letter,
    afterDatasetsDraw(chart: any) {
      // REM blocks, positioned through the chart's scales
      const ctx: CanvasRenderingContext2D = chart.ctx;
      const xs = chart.scales.x, ys = chart.scales.y;
      const y0 = ys.getPixelForValue(cfg.levels.R + cfg.remHalf);
      const y1 = ys.getPixelForValue(cfg.levels.R - cfg.remHalf);
      ctx.save();
      ctx.fillStyle = "#000";
      remIntervals(cfg.hypno).forEach(([a, b]) => {
        const x0 = xs.getPixelForValue(a), x1 = xs.getPixelForValue(b);
        ctx.fillRect(x0, y0, Math.max(1, x1 - x0), y1 - y0);
      });
      ctx.restore();
    },
    afterDraw(chart: any) {
      const ctx: CanvasRenderingContext2D = chart.ctx;
      const { left, right, top, bottom } = chart.chartArea;
      const xs = chart.scales.x, ys = chart.scales.y;
      ctx.save();
      ctx.strokeStyle = INK;
      ctx.lineWidth = 1.5;
      ctx.beginPath();
      HOUR_TICKS.forEach((v) => { const p = xs.getPixelForValue(v); ctx.moveTo(p, bottom); ctx.lineTo(p, bottom - 6); ctx.moveTo(p, top); ctx.lineTo(p, top + 6); });
      HALF_HOUR_TICKS.forEach((v) => { const p = xs.getPixelForValue(v); ctx.moveTo(p, bottom); ctx.lineTo(p, bottom - 4); ctx.moveTo(p, top); ctx.lineTo(p, top + 4); });
      cfg.tauTicks.forEach((v) => { const p = ys.getPixelForValue(v); ctx.moveTo(left, p); ctx.lineTo(left + 5, p); ctx.moveTo(right, p); ctx.lineTo(right - 5, p); });
      ctx.stroke();
      ctx.lineWidth = 2;
      ctx.strokeRect(left, top, right - left, bottom - top);
      ctx.restore();

      const tickFont = `22px ${FONT}`;
      const titleFont = `27px ${FONT}`;
      HOUR_TICKS.forEach((v) => drawText(ctx, String(v), xs.getPixelForValue(v), bottom + cfg.xLabelOffset, tickFont, { sx: 1.08, align: "center", base: "middle" }));
      cfg.tauLabels.forEach((v) => drawText(ctx, v.toFixed(1), left - 13, ys.getPixelForValue(v), tickFont, { sx: 1.08, align: "right", base: "middle" }));
      PHASE_ORDER.forEach((s) => drawText(ctx, PHASE_NAMES[s], right + 10, ys.getPixelForValue(cfg.levels[s]), tickFont, { sx: 1.08, align: "left", base: "middle" }));
      drawText(ctx, cfg.letter, 22, cfg.letterBase, `bold 34px ${FONT}`);
      drawText(ctx, cfg.title, cfg.titleX, cfg.titleBase, titleFont, { sx: 1.2 });
      drawText(ctx, "τ", 35, 166, `28px ${FONT}`, { rot: -Math.PI / 2, align: "center", base: "middle" });
      drawText(ctx, "phases", 845, 177, titleFont, { rot: -Math.PI / 2, sx: 1.25, align: "center", base: "middle" });
      drawRich(ctx, [{ t: "time [", f: titleFont }, { t: "h", f: `italic 27px ${FONT}` }, { t: "]", f: titleFont }], (left + right) / 2, cfg.xTitleBase, 1.15);
    },
  };
}

function Panel({ cfg }: { cfg: PanelCfg }) {
  const ref = useRef<HTMLCanvasElement>(null);
  useEffect(() => {
    if (!ref.current) return;
    const chart = new Chart(ref.current, {
      type: "line",
      data: {
        datasets: [
          {
            label: "τ",
            data: cfg.tau.map(([x, y]) => ({ x, y })),
            borderColor: "#000",
            borderWidth: 1.9,
            pointRadius: 0,
            tension: 0,
          },
          {
            label: "phases",
            data: cfg.hypno.map(([x, s]) => ({ x, y: cfg.levels[s] })),
            borderColor: "#151515",
            borderWidth: 1.8,
            pointRadius: 0,
            stepped: "before",
          },
        ],
      } as any,
      options: {
        responsive: false,
        animation: false,
        events: [],
        layout: { padding: cfg.pad },
        plugins: { legend: { display: false }, tooltip: { enabled: false } },
        scales: {
          x: { type: "linear", min: cfg.xMin, max: cfg.xMax, display: false },
          y: { type: "linear", min: cfg.yMin, max: cfg.yMax, display: false },
        },
      },
      plugins: [makeDecor(cfg)],
    });
    return () => chart.destroy();
  }, [cfg]);
  return (
    <canvas
      ref={ref}
      width={951}
      height={cfg.height}
      style={{ position: "absolute", left: 0, top: cfg.top, width: 951, height: cfg.height }}
    />
  );
}

export default function App() {
  return (
    <div style={{ position: "absolute", left: 0, top: 0, width: 951, height: 895, background: "#fff", overflow: "hidden" }}>
      <Panel cfg={PANEL_A} />
      <Panel cfg={PANEL_B} />
    </div>
  );
}
